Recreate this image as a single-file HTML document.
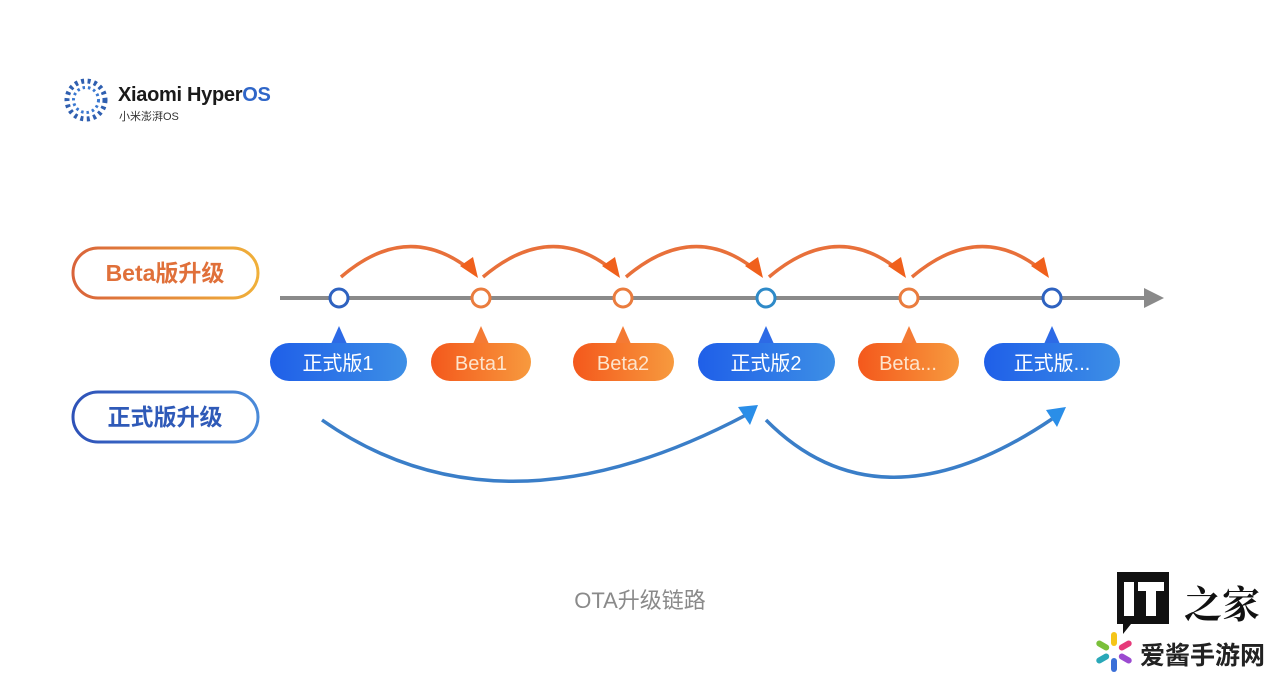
<!DOCTYPE html>
<html><head><meta charset="utf-8"><style>
html,body{margin:0;padding:0;background:#fff;}
body{width:1280px;height:678px;overflow:hidden;font-family:"Liberation Sans","Noto Sans CJK SC",sans-serif;}
</style></head><body>
<svg width="1280" height="678" viewBox="0 0 1280 678" xmlns="http://www.w3.org/2000/svg">
<defs>
<linearGradient id="gb" x1="0" x2="1"><stop offset="0" stop-color="#1f5fe8"/><stop offset="1" stop-color="#3d8fe6"/></linearGradient>
<linearGradient id="go" x1="0" x2="1"><stop offset="0" stop-color="#f4581c"/><stop offset="1" stop-color="#f79a3e"/></linearGradient>
<linearGradient id="gbo" x1="0" x2="1"><stop offset="0" stop-color="#d9633a"/><stop offset="1" stop-color="#f0b03a"/></linearGradient>
<linearGradient id="gbb" x1="0" x2="1"><stop offset="0" stop-color="#2e52b8"/><stop offset="1" stop-color="#4a8ad8"/></linearGradient>
</defs>
<!-- logo -->
<circle cx="86" cy="100" r="19" fill="none" stroke="#2f5fb0" stroke-width="5" stroke-dasharray="3 3.5"/>
<circle cx="86" cy="100" r="12.5" fill="none" stroke="#3a78d0" stroke-width="3" stroke-dasharray="2.5 3"/>
<text x="118" y="101" font-size="20" fill="#1a1a1a" font-weight="bold" letter-spacing="-0.3">Xiaomi Hyper<tspan fill="#2f66c8">OS</tspan></text>
<text x="119" y="120" font-size="11" fill="#333">小米澎湃OS</text>
<!-- left labels -->
<rect x="73" y="248" width="185" height="50" rx="25" fill="#fff" stroke="url(#gbo)" stroke-width="3"/>
<text x="165" y="281" font-size="23" text-anchor="middle" fill="#e0703a" font-weight="bold">Beta版升级</text>
<rect x="73" y="392" width="185" height="50" rx="25" fill="#fff" stroke="url(#gbb)" stroke-width="3"/>
<text x="165" y="425" font-size="23" text-anchor="middle" fill="#2f5ab8" font-weight="bold">正式版升级</text>
<!-- timeline -->
<line x1="280" y1="298" x2="1146" y2="298" stroke="#8a8a8a" stroke-width="4"/>
<polygon points="1144,288 1164,298 1144,308" fill="#8a8a8a"/>
<!-- orange arcs -->
<g fill="none" stroke="#e8703a" stroke-width="3.5">
<path d="M341 277 Q406 221 468 268"/>
<path d="M483 277 Q549 221 610 268"/>
<path d="M626 277 Q692 221 753 268"/>
<path d="M769 277 Q835 221 896 268"/>
<path d="M912 277 Q978 221 1039 268"/>
</g>
<g fill="#f0601c">
<polygon points="460,266 473,257 478,278"/>
<polygon points="602,266 615,257 620,278"/>
<polygon points="745,266 758,257 763,278"/>
<polygon points="888,266 901,257 906,278"/>
<polygon points="1031,266 1044,257 1049,278"/>
</g>
<!-- nodes -->
<g fill="#fff" stroke-width="3">
<circle cx="339" cy="298" r="9" stroke="#2e62c0"/>
<circle cx="481" cy="298" r="9" stroke="#ea7c3e"/>
<circle cx="623" cy="298" r="9" stroke="#ea7c3e"/>
<circle cx="766" cy="298" r="9" stroke="#2e8ac8"/>
<circle cx="909" cy="298" r="9" stroke="#ea7c3e"/>
<circle cx="1052" cy="298" r="9" stroke="#2e62c0"/>
</g>
<!-- pills -->
<g font-size="20" fill="#fff" text-anchor="middle">
<polygon points="339,326 331,344 347,344" fill="#2d6ae6"/>
<rect x="270" y="343" width="137" height="38" rx="19" fill="url(#gb)"/>
<text x="338" y="370">正式版1</text>
<polygon points="481,326 473,344 489,344" fill="#f47a34"/>
<rect x="431" y="343" width="100" height="38" rx="19" fill="url(#go)"/>
<text x="481" y="370" fill="#fde4cc">Beta1</text>
<polygon points="623,326 615,344 631,344" fill="#f47a34"/>
<rect x="573" y="343" width="101" height="38" rx="19" fill="url(#go)"/>
<text x="623" y="370" fill="#fde4cc">Beta2</text>
<polygon points="766,326 758,344 774,344" fill="#2d6ae6"/>
<rect x="698" y="343" width="137" height="38" rx="19" fill="url(#gb)"/>
<text x="766" y="370">正式版2</text>
<polygon points="909,326 901,344 917,344" fill="#f47a34"/>
<rect x="858" y="343" width="101" height="38" rx="19" fill="url(#go)"/>
<text x="908" y="370" fill="#fde4cc">Beta...</text>
<polygon points="1052,326 1044,344 1060,344" fill="#2d6ae6"/>
<rect x="984" y="343" width="136" height="38" rx="19" fill="url(#gb)"/>
<text x="1052" y="370">正式版...</text>
</g>
<!-- blue arcs -->
<g fill="none" stroke="#3a7ec8" stroke-width="3.5">
<path d="M322 420 Q500 545 746 415"/>
<path d="M766 420 Q880 535 1052 419"/>
</g>
<g fill="#2a8ee8">
<polygon points="738,407 758,405 750,425"/>
<polygon points="1046,410 1066,407 1057,427"/>
</g>
<!-- caption -->
<text x="640" y="608" font-size="22" text-anchor="middle" fill="#8a8a8a">OTA升级链路</text>
<!-- watermark -->
<path d="M1117 572 h52 v52 h-38 l-8 10 v-10 h-6 z" fill="#111"/>
<rect x="1124" y="582" width="10" height="34" fill="#fff"/>
<rect x="1138" y="582" width="26" height="9" fill="#fff"/>
<rect x="1146" y="582" width="10" height="34" fill="#fff"/>
<text x="1222" y="618" font-size="38" text-anchor="middle" fill="#111" font-family="'Noto Serif CJK SC',serif" font-weight="bold">之家</text>
<g transform="translate(1114,652)">
<rect x="-3" y="-20" width="6" height="14" rx="3" fill="#f5c518"/>
<rect x="-3" y="6" width="6" height="14" rx="3" fill="#3a6fd8"/>
<rect x="-3" y="-20" width="6" height="14" rx="3" fill="#e63a7a" transform="rotate(60)"/>
<rect x="-3" y="-20" width="6" height="14" rx="3" fill="#9b4ad0" transform="rotate(120)"/>
<rect x="-3" y="-20" width="6" height="14" rx="3" fill="#2aa8b8" transform="rotate(240)"/>
<rect x="-3" y="-20" width="6" height="14" rx="3" fill="#7ac03a" transform="rotate(300)"/>
</g>
<text x="1140" y="664" font-size="25" fill="#222" font-weight="bold">爱酱手游网</text>
</svg>
</body></html>
